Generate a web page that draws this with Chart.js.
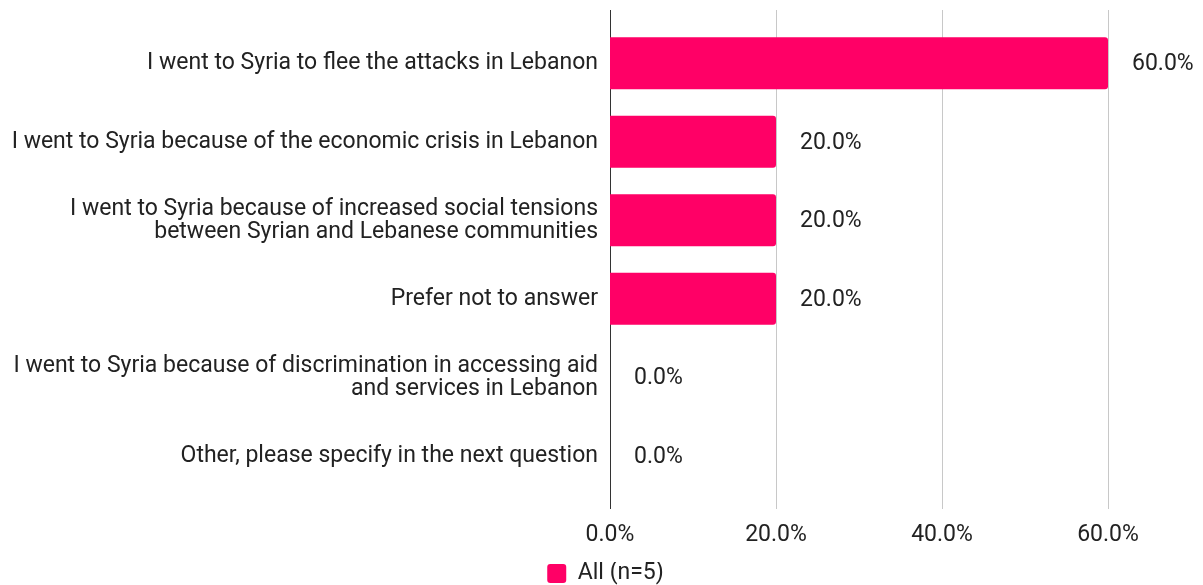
<!DOCTYPE html>
<html>
<head>
<meta charset="utf-8">
<script src="https://cdn.jsdelivr.net/npm/chart.js@4/dist/chart.umd.min.js"></script>
<style>
  html, body { margin: 0; padding: 0; background: #fff; }
  #wrap { width: 1203px; height: 585px; }
</style>
</head>
<body>
<div id="wrap"><canvas id="reasons" width="1203" height="585"></canvas></div>
<script>
const categories = [
  'I went to Syria to flee the attacks in Lebanon',
  'I went to Syria because of the economic crisis in Lebanon',
  ['I went to Syria because of increased social tensions', 'between Syrian and Lebanese communities'],
  'Prefer not to answer',
  ['I went to Syria because of discrimination in accessing aid', 'and services in Lebanon'],
  'Other, please specify in the next question'
];
const shares = [0.6, 0.2, 0.2, 0.2, 0, 0];
const seriesName = 'All (n=5)';
const xTicks = [0, 0.2, 0.4, 0.6];

const pink = '#ff0066';
const textColor = '#222';
const fmt = v => (v * 100).toFixed(1) + '%';

// vertical gridlines run a bit past the plot area on both ends
const gridPlugin = {
  id: 'longGrid',
  beforeDatasetsDraw(chart) {
    const { ctx, chartArea, scales } = chart;
    ctx.save();
    ctx.lineWidth = 1;
    xTicks.forEach((t, i) => {
      const x = Math.round(scales.x.getPixelForValue(t)) + 0.5;
      ctx.strokeStyle = i === 0 ? '#333' : '#c8c8c8';
      ctx.beginPath();
      ctx.moveTo(x, chartArea.top - 14);
      ctx.lineTo(x, chartArea.bottom + 14);
      ctx.stroke();
    });
    ctx.restore();
  }
};

// value labels to the right of each bar
const valuePlugin = {
  id: 'values',
  afterDatasetsDraw(chart) {
    const { ctx } = chart;
    const meta = chart.getDatasetMeta(0);
    ctx.save();
    ctx.font = '23px Roboto';
    ctx.fillStyle = textColor;
    ctx.textAlign = 'left';
    ctx.textBaseline = 'middle';
    meta.data.forEach((bar, i) => {
      ctx.fillText(fmt(shares[i]), bar.x + 24, bar.y + 1);
    });
    ctx.restore();
  }
};

// nudge the legend a little to the right
const legendShift = {
  id: 'legendShift',
  afterLayout(chart) {
    if (!chart.legend) return;
    chart.legend.left += 10;
    chart.legend.right += 10;
  }
};

new Chart(document.getElementById('reasons'), {
  type: 'bar',
  data: {
    labels: categories,
    datasets: [{
      label: seriesName,
      data: shares,
      backgroundColor: pink,
      borderRadius: 3,
      barPercentage: 0.664,
      categoryPercentage: 1
    }]
  },
  options: {
    indexAxis: 'y',
    responsive: false,
    animation: false,
    layout: { padding: { top: 24, right: 12, left: 0, bottom: -10 } },
    plugins: {
      legend: {
        position: 'bottom',
        labels: {
          font: { family: 'Roboto', size: 23 },
          color: textColor,
          boxWidth: 19,
          boxHeight: 19,
          useBorderRadius: true,
          borderRadius: 3,
          padding: 0
        }
      },
      tooltip: { enabled: false }
    },
    scales: {
      x: {
        min: 0,
        max: 0.7,
        afterBuildTicks(s) { s.ticks = xTicks.map(v => ({ value: v })); },
        afterFit(s) { s.height = 67; },
        grid: { display: false, drawTicks: false },
        border: { display: false },
        ticks: {
          callback: v => fmt(v),
          font: { family: 'Roboto', size: 23 },
          color: textColor,
          padding: 26,
          maxRotation: 0
        }
      },
      y: {
        afterFit(s) { s.width = 610; },
        grid: { display: false, drawTicks: false },
        border: { display: false },
        ticks: {
          font: { family: 'Roboto', size: 23, lineHeight: 1 },
          color: textColor,
          padding: 12
        }
      }
    }
  },
  plugins: [gridPlugin, valuePlugin, legendShift]
});
</script>
</body>
</html>
